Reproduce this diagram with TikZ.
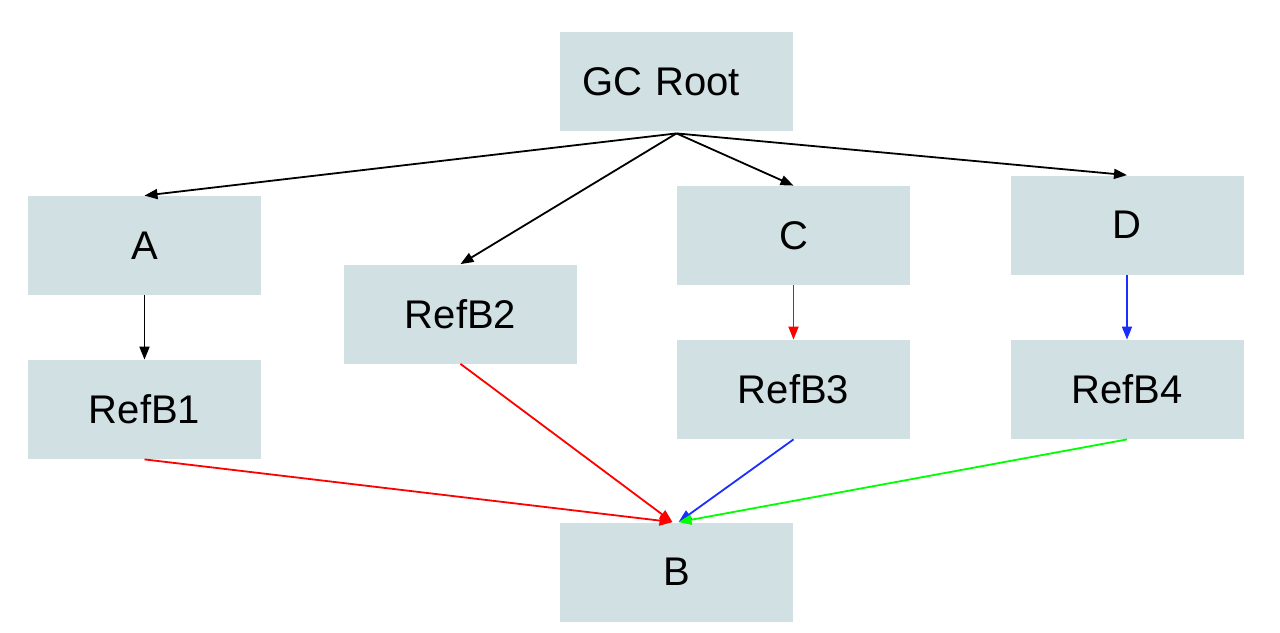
\documentclass[tikz,border=0pt]{standalone}
\usepackage{fontspec}
\setmainfont{Liberation Sans}
\usepackage{tikz}
\usetikzlibrary{shapes,arrows.meta,positioning,calc}
\usepackage{xcolor}
\definecolor{boxcyan}{HTML}{D0E0E3}
\definecolor{refred}{HTML}{FF0000}
\definecolor{refblue}{HTML}{1A2EFF}
\definecolor{refgreen}{HTML}{00FF00}

\begin{document}
\begin{tikzpicture}[x=0.5pt,y=-0.5pt,
        objbox/.style={rectangle,fill=boxcyan,minimum width=116.5pt,minimum height=49.5pt,inner sep=0pt,font=\fontsize{20}{24}\selectfont},
        ref/.style={line width=0.9pt,-{Triangle[length=6.5pt,width=5pt]}}]
        \useasboundingbox (0,0) rectangle (1280,632);

        % Root object
        \node[objbox,align=left,text width=94.5pt,inner xsep=11pt] (root) at (676.5,81.5) {GC Root};

        % Objects reached from the root
        \node[objbox] (a) at (144.5,245.5) {A};
        \node[objbox] (refb2) at (460.5,314) {RefB2};
        \node[objbox] (c) at (793.5,235.5) {C};
        \node[objbox] (d) at (1127,225) {D};

        % References to B
        \node[objbox] (refb1) at (144.5,409.5) {RefB1};
        \node[objbox] (refb3) at (793.5,389.5) {RefB3};
        \node[objbox] (refb4) at (1127,389.5) {RefB4};

        % Target object
        \node[objbox] (b) at (676.5,572) {B};
        \coordinate (bleft) at ([xshift=-2pt]b.north);
        \coordinate (bright) at ([xshift=1pt]b.north);

        \draw[ref] ([yshift=-1pt]root.south) -- (a.north);
        \draw[ref] ([yshift=-1pt]root.south) -- (refb2.north);
        \draw[ref] ([yshift=-1pt]root.south) -- (c.north);
        \draw[ref] ([yshift=-1pt]root.south) -- (d.north);

        \draw[ref] (a.south) -- (refb1.north);
        \draw[ref,refred] (c.south) -- (refb3.north);
        \draw[ref,refblue] (d.south) -- (refb4.north);

        \draw[ref,refred] (refb1.south) -- (bleft);
        \draw[ref,refred] (refb2.south) -- (bleft);
        \draw[ref,refblue] (refb3.south) -- (bright);
        \draw[ref,refgreen] (refb4.south) -- (bright);
\end{tikzpicture}
\end{document}
